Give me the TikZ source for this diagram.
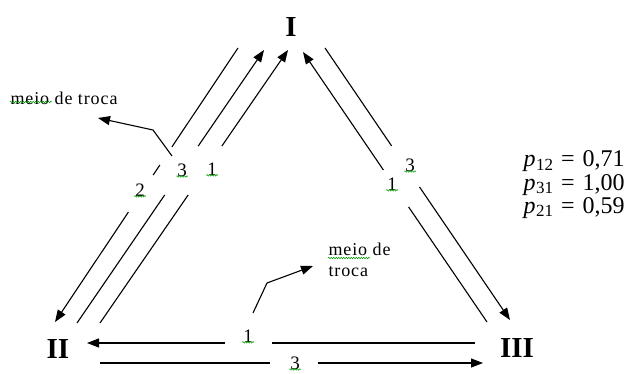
\documentclass[tikz,border=0pt]{standalone}
\usepackage{fontspec}
\setmainfont{Liberation Serif}
\newfontfamily\wordfont[LetterSpace=5]{Liberation Serif}
\usetikzlibrary{arrows.meta,calc,decorations.pathmorphing}
\begin{document}
\begin{tikzpicture}[x=1pt, y=-1pt, line width=1.1pt, >={Triangle[length=12pt,width=9pt]},
        roman/.style = {font=\fontsize{29}{29}\selectfont\bfseries, inner sep=0pt},
        num/.style = {font=\fontsize{19}{19}\selectfont, inner sep=0.5pt},
        note/.style = {font=\wordfont\fontsize{18}{21}\selectfont, inner sep=0pt},
        pval/.style = {font=\fontsize{24}{24}\selectfont, inner sep=0pt, anchor=base west},
        spell/.style = {draw=green!60!black, line width=0.5pt, decorate, decoration={snake, amplitude=0.8pt, segment length=2.5pt}}]
        \useasboundingbox (0,0) rectangle (636,374);
        % vertices
        \node[roman] (I) at (291,27) {I};
        \node[roman] (II) at (58,349) {II};
        \node[roman] (III) at (517,348) {III};
        % line ends
        \coordinate (a1) at (238,48); \coordinate (a2) at (55,322);
        \coordinate (b1) at (264,50); \coordinate (b2) at (77,323);
        \coordinate (c1) at (288,50); \coordinate (c2) at (100,323);
        \coordinate (d1) at (303,52); \coordinate (d2) at (487,322);
        \coordinate (e1) at (325,48); \coordinate (e2) at (510,320);
        \coordinate (f1) at (475,343); \coordinate (f2) at (87,343);
        \coordinate (g1) at (100,363); \coordinate (g2) at (483,363);
        % I -- II
        \draw (a1) -- ($(a1)!0.361!(a2)$);
        \draw ($(a1)!0.427!(a2)$) -- ($(a1)!0.464!(a2)$);
        \draw[->] ($(a1)!0.599!(a2)$) -- (a2);
        \draw[<-] (b1) -- ($(b1)!0.352!(b2)$);
        \draw ($(b1)!0.531!(b2)$) -- (b2);
        \draw[<-] (c1) -- ($(c1)!0.352!(c2)$);
        \draw ($(c1)!0.531!(c2)$) -- (c2);
        \node[num] (la) at (140,190) {2};
        \node[num] (lb) at (182,170) {3};
        \node[num] (lc) at (212,169) {1};
        % I -- III
        \draw[<-] (d1) -- ($(d1)!0.437!(d2)$);
        \draw ($(d1)!0.574!(d2)$) -- (d2);
        \draw (e1) -- ($(e1)!0.36!(e2)$);
        \draw[->] ($(e1)!0.511!(e2)$) -- (e2);
        \node[num] (ld) at (392,184) {1};
        \node[num] (le) at (410,165) {3};
        % II -- III
        \draw (f1) -- ($(f1)!0.523!(f2)$);
        \draw[->] ($(f1)!0.644!(f2)$) -- (f2);
        \draw (g1) -- ($(g1)!0.444!(g2)$);
        \draw[->] ($(g1)!0.569!(g2)$) -- (g2);
        \node[num] (lf) at (248,336) {1};
        \node[num] (lg) at (295,363) {3};
        % callouts
        \node[note, anchor=base west] (m1) at (10,105) {meio de troca};
        \coordinate (k1) at (172,156); \coordinate (k2) at (153,130); \coordinate (k3) at (98,118);
        \draw[->] (k1) -- (k2) -- (k3);
        \node[note, anchor=base west, align=left] (m2) at (328,276) {meio de\\troca};
        \coordinate (j1) at (253,313); \coordinate (j2) at (267,283); \coordinate (j3) at (313,266);
        \draw[->] (j1) -- (j2) -- (j3);
        % spelling marks
        \draw[spell] ([yshift=3pt]m1.base west) -- ++(42,0);
        \draw[spell] (328,258) -- ++(42,0);
        \foreach \n in {la,lb,lc,ld,le,lf,lg}
            \draw[spell] ([yshift=1pt]\n.south west) -- ([yshift=1pt]\n.south east);
        % values
        \node[pval] (p1) at (523,167) {\textit{p}\kern0.5pt\raisebox{-3pt}{\fontsize{17}{17}\selectfont 12}\,\,=\,\,0,71};
        \node[pval] (p2) at (523,190) {\textit{p}\kern0.5pt\raisebox{-3pt}{\fontsize{17}{17}\selectfont 31}\,\,=\,\,1,00};
        \node[pval] (p3) at (523,213) {\textit{p}\kern0.5pt\raisebox{-3pt}{\fontsize{17}{17}\selectfont 21}\,\,=\,\,0,59};
    \end{tikzpicture}
\end{document}
